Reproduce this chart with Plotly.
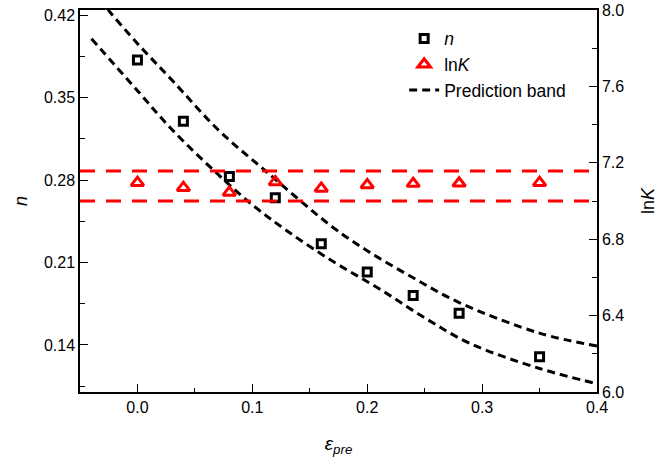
import plotly.graph_objects as go

# Data
eps = [0.0, 0.04, 0.08, 0.12, 0.16, 0.20, 0.24, 0.28, 0.35]
n_vals = [0.382, 0.330, 0.283, 0.265, 0.226, 0.202, 0.182, 0.167, 0.130]
lnK_vals = [7.096, 7.070, 7.045, 7.100, 7.066, 7.084, 7.091, 7.093, 7.096]

band_up_x = [-0.04, -0.025, 0.0, 0.03, 0.07, 0.11, 0.17, 0.20, 0.24, 0.28, 0.35, 0.40]
band_up_n = [0.442, 0.424, 0.396, 0.365, 0.323, 0.289, 0.240, 0.220, 0.197, 0.176, 0.150, 0.139]
band_lo_x = [-0.04, 0.0, 0.03, 0.07, 0.10, 0.13, 0.17, 0.21, 0.25, 0.29, 0.35, 0.40]
band_lo_n = [0.400, 0.356, 0.323, 0.285, 0.259, 0.237, 0.211, 0.188, 0.163, 0.141, 0.120, 0.107]

lnK_band_x = [-0.05, 0.40]
lnK_band_upper = [7.157, 7.157]
lnK_band_lower = [7.0, 7.0]

FONT = "Arial, 'Liberation Sans', sans-serif"
RED = "#ff0000"

fig = go.Figure()

# red dashed lnK band
for yy in (lnK_band_upper, lnK_band_lower):
    fig.add_trace(go.Scatter(x=lnK_band_x, y=yy, mode="lines", yaxis="y2",
                             line=dict(color=RED, width=3, dash="15px,11px"),
                             showlegend=False, hoverinfo="skip"))

# prediction band curves
fig.add_trace(go.Scatter(x=band_up_x, y=band_up_n, mode="lines", name="Prediction band",
                         line=dict(color="black", width=3, dash="8px,5px", shape="spline"),
                         legendrank=3))
fig.add_trace(go.Scatter(x=band_lo_x, y=band_lo_n, mode="lines", showlegend=False,
                         line=dict(color="black", width=3, dash="8px,5px", shape="spline")))

# data points
fig.add_trace(go.Scatter(x=eps, y=n_vals, mode="markers", name="<i>n</i>",
                         marker=dict(symbol="square-open", size=8, color="black",
                                     line=dict(width=3, color="black")),
                         legendrank=1))
fig.add_trace(go.Scatter(x=eps, y=lnK_vals, mode="markers", name="ln<i>K</i>", yaxis="y2",
                         marker=dict(symbol="triangle-up-open", size=11, color=RED,
                                     line=dict(width=3, color=RED)),
                         legendrank=2))

fig.update_layout(
    width=670, height=461,
    margin=dict(l=80, r=73, t=10, b=69),
    paper_bgcolor="white", plot_bgcolor="white",
    font=dict(family=FONT, size=16, color="black"),
    showlegend=True,
    legend=dict(x=0.627, y=0.972, xanchor="left", yanchor="top",
                bgcolor="rgba(0,0,0,0)", font=dict(size=17.5), tracegroupgap=0),
    xaxis=dict(range=[-0.05, 0.4], tick0=0, dtick=0.1, tickformat=".1f", automargin=False,
               showline=True, linecolor="black", linewidth=1.5, mirror=True,
               ticks="inside", ticklen=8, tickwidth=1.3, tickcolor="black",
               minor=dict(ticks="inside", ticklen=4, tick0=0, dtick=0.05, tickcolor="black", tickwidth=1.3),
               showgrid=False, zeroline=False,
               title=dict(text="<i>ε</i><sub><i>pre</i></sub>", font=dict(size=19), standoff=22)),
    yaxis=dict(range=[0.1, 0.4245], tick0=0.14, dtick=0.07, tickformat=".2f", automargin=False,
               showline=True, linecolor="black", linewidth=1.5,
               ticks="inside", ticklen=8, tickwidth=1.3, tickcolor="black",
               minor=dict(ticks="inside", ticklen=5, tick0=0.105, dtick=0.035, tickcolor="black", tickwidth=1.3),
               showgrid=False, zeroline=False,
               title=dict(text="<i>n</i>", font=dict(size=18), standoff=12)),
    yaxis2=dict(range=[6.0, 8.0], tick0=6.0, dtick=0.4, tickformat=".1f", automargin=False,
                overlaying="y", side="right",
                showline=True, linecolor="black", linewidth=1.5,
                ticks="inside", ticklen=8, tickwidth=1.3, tickcolor="black",
                minor=dict(ticks="inside", ticklen=5, tick0=6.0, dtick=0.2, tickcolor="black", tickwidth=1.3),
                showgrid=False, zeroline=False,
                title=dict(text="ln<i>K</i>", font=dict(size=18), standoff=18)),
)

fig.write_html("out.html")
